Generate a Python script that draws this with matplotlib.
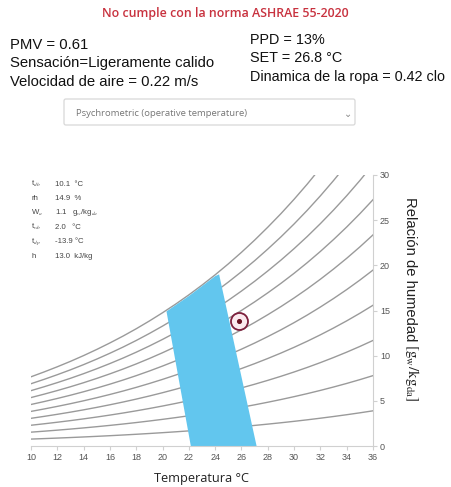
import numpy as np
import matplotlib.pyplot as plt
from matplotlib.patches import Polygon, FancyBboxPatch

# saturation humidity ratio (g/kg) at sea level, 10..36 °C
temps = [10, 11, 12, 13, 14, 15, 16, 17, 18, 19, 20, 21, 22, 23,
         24, 25, 26, 27, 28, 29, 30, 31, 32, 33, 34, 35, 36]
w_sat = [7.66, 8.20, 8.77, 9.37, 10.01, 10.69, 11.41, 12.17, 12.98, 13.84,
         14.75, 15.71, 16.73, 17.81, 18.95, 20.16, 21.44, 22.79, 24.22,
         25.72, 27.31, 28.99, 30.77, 32.65, 34.63, 36.73, 38.95]
rh_levels = [0.1, 0.2, 0.3, 0.4, 0.5, 0.6, 0.7, 0.8, 0.9, 1.0]

# comfort zone outline (T, W)
zone_t = [22.15, 20.3, 21, 22, 23, 24, 24.3, 27.15]
zone_w = [0.0, 14.9, 15.6, 16.6, 17.7, 18.8, 19.0, 0.0]

# current condition
point_t = 25.8
point_w = 13.85

info_keys = ["t$_{db}$", "rh", "W$_a$", "t$_{wb}$", "t$_{dp}$", "h"]
info_vals = ["10.1  °C", "14.9  %", "1.1   g$_w$/kg$_{da}$", "2.0   °C",
             "-13.9 °C", "13.0  kJ/kg"]

plt.rcParams['font.family'] = ['Liberation Sans', 'DejaVu Sans']
plt.rcParams['mathtext.fontset'] = 'stix'

fig = plt.figure(figsize=(4.51, 4.87), dpi=100)
W, H = 451, 487

def fx(px):
    return px / W

def fy(py):
    return 1 - py / H

# header
fig.text(0.5, fy(14), "No cumple con la norma ASHRAE 55-2020", ha='center',
         va='center', color='#c8323f', fontsize=8.9, fontweight='semibold',
         family=['Open Sans', 'DejaVu Sans'])
left_lines = ["PMV = 0.61", "Sensación=Ligeramente calido",
              "Velocidad de aire = 0.22 m/s"]
right_lines = ["PPD = 13%", "SET = 26.8 °C", "Dinamica de la ropa = 0.42 clo"]
for i, s in enumerate(left_lines):
    fig.text(fx(10), fy(45 + 18.5 * i), s, ha='left', va='center',
             fontsize=10.7, color='#111111')
for i, s in enumerate(right_lines):
    fig.text(fx(250), fy(40 + 18.5 * i), s, ha='left', va='center',
             fontsize=10.4, color='#111111')

# dropdown selector
box = FancyBboxPatch((fx(64), fy(125)), fx(291), (125 - 99) / H,
                     boxstyle="round,pad=0,rounding_size=0.004",
                     transform=fig.transFigure, facecolor='white',
                     edgecolor='#d8d8d8', linewidth=0.9)
fig.patches.append(box)
fig.text(fx(76), fy(114), "Psychrometric (operative temperature)", ha='left',
         va='center', fontsize=6.8, color='#777777',
         family=['Open Sans', 'DejaVu Sans'])
fig.text(fx(348), fy(114), "⌄", ha='center', va='center', fontsize=7,
         color='#888888', family=['DejaVu Sans'])

# chart
ax = fig.add_axes([fx(31), fy(446), fx(373 - 31), (446 - 175) / H])
t_arr = np.array(temps)
ws_arr = np.array(w_sat)
for rh in rh_levels:
    ax.plot(t_arr, ws_arr * rh, color='#9a9a9a', lw=1.0, zorder=1)

ax.add_patch(Polygon(list(zip(zone_t, zone_w)), closed=True,
                     facecolor='#62c6ee', edgecolor='none', zorder=2))

ax.scatter([point_t], [point_w], s=150, facecolor='#fbe9ee',
           edgecolor='#7d1f3c', linewidth=1.3, zorder=4)
ax.scatter([point_t], [point_w], s=7, color='#6a1020', zorder=5)

ax.set_xlim(10, 36)
ax.set_ylim(0, 30)
ax.set_xticks(range(10, 37, 2))
ax.set_yticks(range(0, 31, 5))
ax.yaxis.tick_right()
for side in ['top', 'left']:
    ax.spines[side].set_visible(False)
for side in ['bottom', 'right']:
    ax.spines[side].set_color('#d0d0d0')
    ax.spines[side].set_linewidth(0.8)
ax.tick_params(axis='both', labelsize=6.5, colors='#d0d0d0',
               labelcolor='#555555', length=3, width=0.8, pad=2)

ax.set_xlabel("Temperatura °C", fontsize=9.2, color='#222222', labelpad=7,
              family=['Open Sans', 'DejaVu Sans'])

for i, (k, v) in enumerate(zip(info_keys, info_vals)):
    ax.text(10.0, 29.0 - 1.6 * i, k, fontsize=5.6, color='#444444',
            va='center', ha='left')
    ax.text(11.8, 29.0 - 1.6 * i, v, fontsize=5.6, color='#444444',
            va='center', ha='left')

fig.text(fx(410), fy(197), "Relación de humedad", rotation=270, ha='center',
         va='top', fontsize=10.6, color='#222222')
fig.text(fx(412), fy(344), r"$\left[\mathrm{g_w/kg_{da}}\right]$",
         rotation=270, ha='center', va='top', fontsize=11, color='#222222')

fig.savefig("out.png", dpi=100)
